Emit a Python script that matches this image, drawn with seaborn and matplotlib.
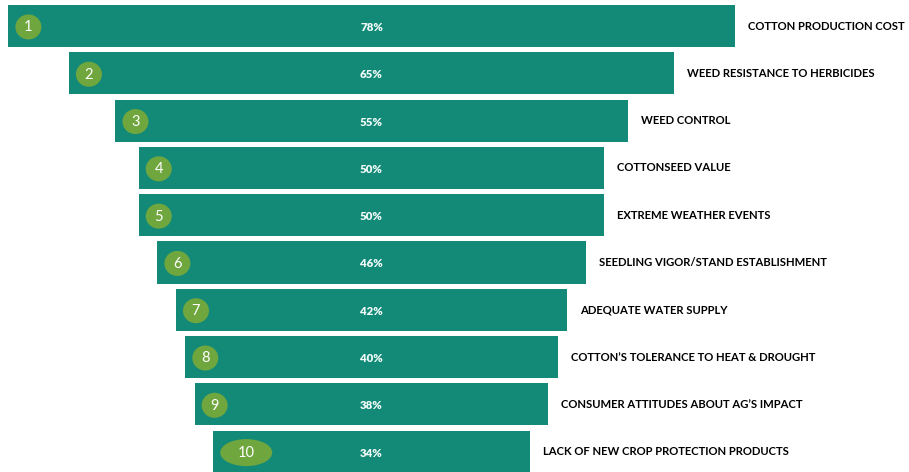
import matplotlib
matplotlib.use("Agg")
import matplotlib.pyplot as plt
from matplotlib.patches import Ellipse
import seaborn as sns
import pandas as pd

# Ranked concerns and share of respondents
ranks = ["1", "2", "3", "4", "5", "6", "7", "8", "9", "10"]
concerns = [
    "COTTON PRODUCTION COST",
    "WEED RESISTANCE TO HERBICIDES",
    "WEED CONTROL",
    "COTTONSEED VALUE",
    "EXTREME WEATHER EVENTS",
    "SEEDLING VIGOR/STAND ESTABLISHMENT",
    "ADEQUATE WATER SUPPLY",
    "COTTON\u2019S TOLERANCE TO HEAT & DROUGHT",
    "CONSUMER ATTITUDES ABOUT AG\u2019S IMPACT",
    "LACK OF NEW CROP PROTECTION PRODUCTS",
]
shares = [78, 65, 55, 50, 50, 46, 42, 40, 38, 34]

BAR = "#138a78"
BADGE = "#6fa63d"

df = pd.DataFrame({"concern": concerns, "share": shares, "rank": ranks})

sns.set_theme(style="white")
plt.rcParams["font.family"] = ["Lato", "DejaVu Sans"]

fig = plt.figure(figsize=(9.09, 4.72), dpi=100)
ax = fig.add_axes([0, 0, 1, 1])

sns.barplot(data=df, x="share", y="concern", orient="h", color=BAR,
            saturation=1, width=0.89, ax=ax, linewidth=0)

# Centre every bar on zero to form the funnel
for patch, v in zip(ax.patches, shares):
    patch.set_x(-v / 2)

px_per_unit = 9.31
ax.set_xlim(-371.5 / px_per_unit, (909 - 371.5) / px_per_unit)
ax.set_ylim(9.43, -0.55)
ax.axis("off")

yunit = 47.3  # pixels per category step
for i, (v, r, name) in enumerate(zip(shares, ranks, concerns)):
    ax.text(0, i + 0.03, f"{v}%", ha="center", va="center", color="#f2fbf8",
            fontsize=8.2, fontweight="heavy")
    ax.text(v / 2 + 13 / px_per_unit, i, name, ha="left", va="center",
            color="black", fontsize=8.1, fontweight="bold")
    if len(r) > 1:
        w_px, h_px, off_px = 52, 27, 33
    else:
        w_px, h_px, off_px = 26, 25, 20
    cx = -v / 2 + off_px / px_per_unit
    ax.add_patch(Ellipse((cx, i + 0.02), w_px / px_per_unit, h_px / yunit,
                         facecolor=BADGE, edgecolor="none", zorder=3))
    ax.text(cx, i + 0.03, r, ha="center", va="center", color="white",
            fontsize=10.5, zorder=4)

fig.savefig("out.png", dpi=100, facecolor="white")
